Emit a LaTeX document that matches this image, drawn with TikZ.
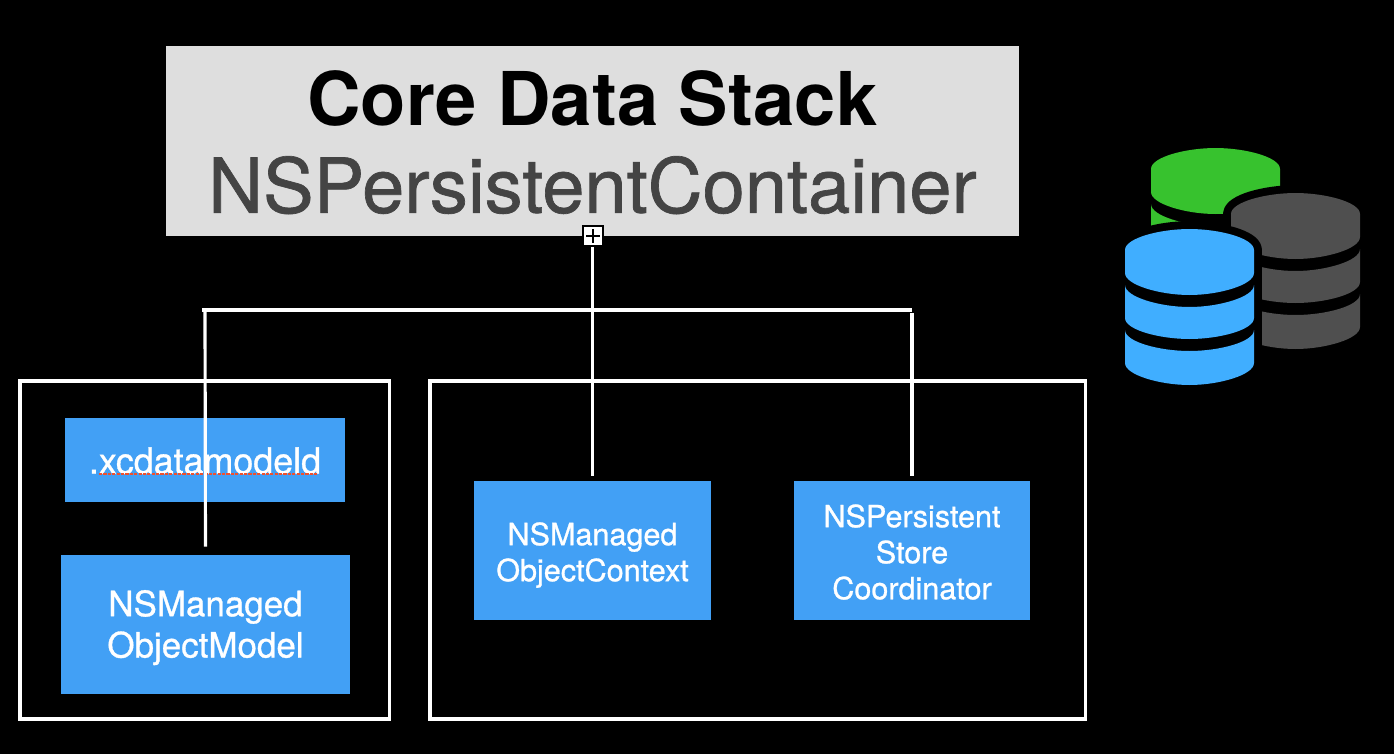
\documentclass[tikz,border=0pt]{standalone}
\usepackage{fontspec}
\setmainfont{TeX Gyre Heros}
\newfontfamily\medfont[FakeBold=0.9]{TeX Gyre Heros}
\definecolor{boxblue}{HTML}{42A0F5}
\definecolor{iconblue}{HTML}{40AEFF}
\definecolor{icongreen}{HTML}{37C22E}
\definecolor{icongray}{HTML}{4F4F4F}
\definecolor{titlegray}{HTML}{DEDEDE}
\definecolor{subgray}{HTML}{444444}
\definecolor{spellred}{HTML}{F0502E}
\tikzset{
  wire/.style={draw=white,line width=1.8pt},
  frame/.style={draw=white,line width=1.75pt},
  classbox/.style={fill=boxblue,text=white,inner sep=0pt,align=center,font=\medfont\fontsize{17.4}{20.5}\selectfont},
  bigclassbox/.style={classbox,font=\medfont\fontsize{19.9}{23.5}\selectfont},
  halo/.style={draw=black,fill=black,line width=9pt,line join=round}
}
% strut that pushes the text of a box down
\newcommand{\pad}[1]{\rule{0pt}{#1pt}}
% one database cylinder, #1 #2 top left corner, #3 colour
\newcommand{\dbstack}[3]{
  \begin{scope}[shift={(#1,#2)}]
    \path[halo] (0,21) .. controls (0,9) and (35,0) .. (64.5,0) .. controls (94,0) and (129,9) .. (129,21)
      -- (129,134) .. controls (129,146) and (94,156) .. (64.5,156) .. controls (35,156) and (0,146) .. (0,134) -- cycle;
    \fill[#3] (0,21) .. controls (0,9) and (35,0) .. (64.5,0) .. controls (94,0) and (129,9) .. (129,21)
      -- (129,44) .. controls (129,56) and (94,66) .. (64.5,66) .. controls (35,66) and (0,56) .. (0,44) -- cycle;
    \fill[#3] (0,56) .. controls (0,68) and (35,78) .. (64.5,78) .. controls (94,78) and (129,68) .. (129,56)
      -- (129,89) .. controls (129,101) and (94,110) .. (64.5,110) .. controls (35,110) and (0,101) .. (0,89) -- cycle;
    \fill[#3] (0,101) .. controls (0,113) and (35,122) .. (64.5,122) .. controls (94,122) and (129,113) .. (129,101)
      -- (129,134) .. controls (129,146) and (94,156) .. (64.5,156) .. controls (35,156) and (0,146) .. (0,134) -- cycle;
  \end{scope}
}
\begin{document}
\begin{tikzpicture}[x=0.02cm,y=-0.02cm]
  \fill[black] (0,0) rectangle (1394,754);
  \useasboundingbox (0,0) rectangle (1394,754);

  % title
  \node[fill=titlegray,minimum width=17.06cm,minimum height=3.8cm,inner sep=0pt,align=center,
        font=\fontsize{42.2}{50.5}\selectfont] (stack) at (592.5,141)
        {\pad{33}\textbf{Core Data Stack}\\[-1pt]{\medfont\fontsize{43.2}{50.5}\selectfont\textcolor{subgray}{NSPersistentContainer}}};

  % frames
  \draw[frame] (20,381) rectangle (389.5,719);
  \draw[frame] (430,381) rectangle (1085.5,719);

  % classes
  \node[bigclassbox,minimum width=5.6cm,minimum height=1.68cm,font=\medfont\fontsize{20.4}{23.5}\selectfont] (xcdata) at (205,460) {\pad{15.7}.xcdatamodeld};
  \draw[spellred,line width=1.3pt,dash pattern=on 1.8pt off 0.7pt] (99,474.3) -- (318,474.3);
  \node[bigclassbox,minimum width=5.78cm,minimum height=2.78cm] (model) at (205.5,624.5) {\pad{18.4}NSManaged\\ObjectModel};
  \node[classbox,minimum width=4.74cm,minimum height=2.78cm] (context) at (592.5,550.5) {\pad{18.2}NSManaged\\ObjectContext};
  \node[classbox,minimum width=4.72cm,minimum height=2.78cm] (coord) at (912,550.5) {\pad{14.8}NSPersistent\\Store\\Coordinator};

  % plus handle
  \node[fill=white,draw=black,line width=1.14pt,minimum size=0.4cm,inner sep=0pt,
        path picture={\draw[black,line width=0.8pt] (-7,0) -- (7,0) (0,-7) -- (0,7);}] (plus) at (593,236) {};

  % connectors
  \coordinate (busleft) at (202,310);
  \coordinate (busright) at (912,310);
  \coordinate (dropleft) at (205,310);
  \coordinate (dropright) at (912,313);
  \draw[wire] (busleft) -- (busright);
  \draw[wire,shorten >=2.85pt] (plus.south -| context.north) -- (context.north);
  \draw[wire,shorten >=4.55pt] (dropleft) -- (model.north);
  \draw[wire,shorten >=2.85pt] (dropright) -- (coord.north);

  % database icon
  \dbstack{1151}{148}{icongreen}
  \dbstack{1231}{193}{icongray}
  \dbstack{1125}{229}{iconblue}
\end{tikzpicture}
\end{document}
